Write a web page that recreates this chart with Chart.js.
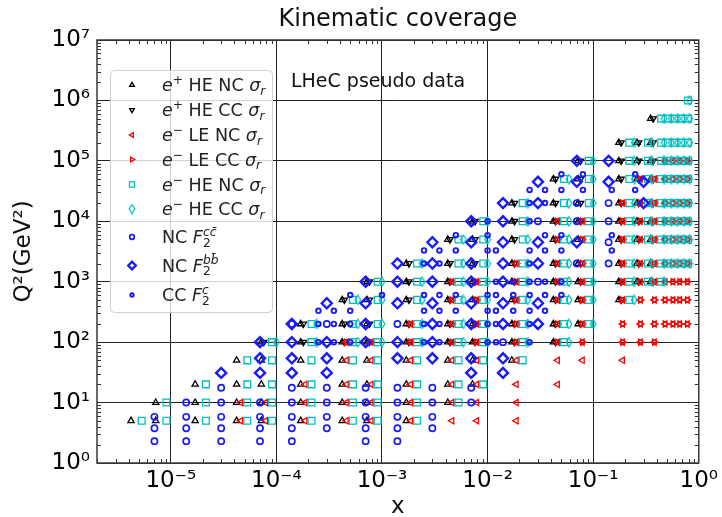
<!DOCTYPE html>
<html>
<head>
<meta charset="utf-8">
<script src="https://cdn.jsdelivr.net/npm/chart.js@4.4.1/dist/chart.umd.min.js"></script>
<style>
  html, body { margin: 0; padding: 0; background: #fff; }
  #plot { display: block; }
</style>
</head>
<body>
<canvas id="plot" width="722" height="517"></canvas>
<script>
// x / Q^2 coverage of the LHeC pseudo-data sets

const xTicks = [1e-5, 1e-4, 1e-3, 1e-2, 1e-1, 1];
const xTickLabels = ['10⁻⁵', '10⁻⁴', '10⁻³', '10⁻²', '10⁻¹', '10⁰'];
const yTicks = [1, 10, 100, 1e3, 1e4, 1e5, 1e6, 1e7];
const yTickLabels = ['10⁰', '10¹', '10²', '10³', '10⁴', '10⁵', '10⁶', '10⁷'];

// reduced cross sections, one row per Q2: [Q2, [x, ...]]
const ePlusHeNC = [
  [5, [4.2e-6, 7.2e-6, 1.7e-5, 4.2e-5, 7.2e-5, 1.7e-4, 4.2e-4, 7.2e-4, 1.7e-3]],
  [10, [7.2e-6, 1.7e-5, 4.2e-5, 7.2e-5, 1.7e-4, 4.2e-4, 7.2e-4, 1.7e-3, 4.2e-3]],
  [20, [1.7e-5, 4.2e-5, 7.2e-5, 1.7e-4, 4.2e-4, 7.2e-4, 1.7e-3, 4.2e-3, 7.2e-3]],
  [50, [4.2e-5, 7.2e-5, 1.7e-4, 4.2e-4, 7.2e-4, 1.7e-3, 4.2e-3, 7.2e-3, 1.7e-2]],
  [100, [7.2e-5, 1.7e-4, 4.2e-4, 7.2e-4, 1.7e-3, 4.2e-3, 7.2e-3, 1.7e-2, 4.2e-2]],
  [200, [1.7e-4, 4.2e-4, 7.2e-4, 1.7e-3, 4.2e-3, 7.2e-3, 1.7e-2, 4.2e-2, 7.2e-2]],
  [500, [4.2e-4, 7.2e-4, 1.7e-3, 4.2e-3, 7.2e-3, 1.7e-2, 4.2e-2, 7.2e-2, 0.175]],
  [1000, [7.2e-4, 1.7e-3, 4.2e-3, 7.2e-3, 1.7e-2, 4.2e-2, 7.2e-2, 0.175, 0.26, 0.35]],
  [2000, [1.7e-3, 4.2e-3, 7.2e-3, 1.7e-2, 4.2e-2, 7.2e-2, 0.175, 0.26, 0.35]],
  [5000, [4.2e-3, 7.2e-3, 1.7e-2, 4.2e-2, 7.2e-2, 0.175, 0.26, 0.35]],
  [1e4, [7.2e-3, 1.7e-2, 4.2e-2, 7.2e-2, 0.175, 0.26, 0.35]],
  [2e4, [1.7e-2, 4.2e-2, 7.2e-2, 0.175, 0.26, 0.35]],
  [5e4, [4.2e-2, 7.2e-2, 0.175, 0.26, 0.35]],
  [1e5, [7.2e-2, 0.175, 0.26, 0.35]],
  [2e5, [0.175, 0.26, 0.35]],
  [5e5, [0.35]]
];
const ePlusHeCC = [
  [100, [7.6e-5, 1.8e-4, 4.4e-4, 7.6e-4, 1.8e-3, 4.4e-3, 7.6e-3, 1.8e-2, 4.4e-2]],
  [200, [1.8e-4, 4.4e-4, 7.6e-4, 1.8e-3, 4.4e-3, 7.6e-3, 1.8e-2, 4.4e-2, 7.6e-2]],
  [500, [4.4e-4, 7.6e-4, 1.8e-3, 4.4e-3, 7.6e-3, 1.8e-2, 4.4e-2, 7.6e-2, 0.184]],
  [1000, [7.6e-4, 1.8e-3, 4.4e-3, 7.6e-3, 1.8e-2, 4.4e-2, 7.6e-2, 0.184, 0.27, 0.37]],
  [2000, [1.8e-3, 4.4e-3, 7.6e-3, 1.8e-2, 4.4e-2, 7.6e-2, 0.184, 0.27, 0.37]],
  [5000, [4.4e-3, 7.6e-3, 1.8e-2, 4.4e-2, 7.6e-2, 0.184, 0.27, 0.37]],
  [1e4, [7.6e-3, 1.8e-2, 4.4e-2, 7.6e-2, 0.184, 0.27, 0.37]],
  [2e4, [1.8e-2, 4.4e-2, 7.6e-2, 0.184, 0.27, 0.37]],
  [5e4, [4.4e-2, 7.6e-2, 0.184, 0.27, 0.37]],
  [1e5, [7.6e-2, 0.184, 0.27, 0.37]],
  [2e5, [0.184, 0.27, 0.37]],
  [5e5, [0.37]]
];
const eMinusLeNC = [
  [5, [4.6e-5, 7.9e-5, 1.87e-4, 4.6e-4, 7.9e-4, 1.87e-3, 4.6e-3, 7.9e-3, 1.87e-2]],
  [10, [4.6e-5, 7.9e-5, 1.87e-4, 4.6e-4, 7.9e-4, 1.87e-3, 4.6e-3, 7.9e-3, 1.87e-2]],
  [20, [1.87e-4, 4.6e-4, 7.9e-4, 1.87e-3, 4.6e-3, 7.9e-3, 1.87e-2, 4.6e-2]],
  [50, [4.6e-4, 7.9e-4, 1.87e-3, 4.6e-3, 7.9e-3, 1.87e-2, 4.6e-2, 7.9e-2, 0.19]],
  [100, [4.6e-4, 7.9e-4, 1.87e-3, 4.6e-3, 7.9e-3, 1.87e-2, 4.6e-2, 7.9e-2, 0.19, 0.28, 0.38]],
  [200, [1.87e-3, 4.6e-3, 7.9e-3, 1.87e-2, 4.6e-2, 7.9e-2, 0.19, 0.28, 0.38, 0.48, 0.57, 0.66, 0.78]],
  [500, [4.6e-3, 7.9e-3, 1.87e-2, 4.6e-2, 7.9e-2, 0.19, 0.28, 0.38, 0.48, 0.57, 0.66, 0.78]],
  [1000, [4.6e-3, 7.9e-3, 1.87e-2, 4.6e-2, 7.9e-2, 0.19, 0.28, 0.38, 0.48, 0.57, 0.66, 0.78]],
  [2000, [1.87e-2, 4.6e-2, 7.9e-2, 0.19, 0.28, 0.38, 0.48, 0.57, 0.66, 0.78]],
  [5000, [4.6e-2, 7.9e-2, 0.19, 0.28, 0.38, 0.48, 0.57, 0.66, 0.78]],
  [1e4, [4.6e-2, 7.9e-2, 0.19, 0.28, 0.38, 0.48, 0.57, 0.66, 0.78]],
  [2e4, [0.19, 0.28, 0.38, 0.48, 0.57, 0.66, 0.78]],
  [5e4, [0.28, 0.38, 0.48, 0.57, 0.66, 0.78]],
  [1e5, [0.48, 0.57, 0.66, 0.78]]
];
const eMinusLeCC = [
  [100, [4.6e-4, 7.9e-4, 1.87e-3, 4.6e-3, 7.9e-3, 1.87e-2, 4.6e-2, 7.9e-2, 0.19, 0.28, 0.38]],
  [200, [1.87e-3, 4.6e-3, 7.9e-3, 1.87e-2, 4.6e-2, 7.9e-2, 0.19, 0.28, 0.38, 0.48, 0.57, 0.66, 0.78]],
  [500, [4.6e-3, 7.9e-3, 1.87e-2, 4.6e-2, 7.9e-2, 0.19, 0.28, 0.38, 0.48, 0.57, 0.66, 0.78]],
  [1000, [4.6e-3, 7.9e-3, 1.87e-2, 4.6e-2, 7.9e-2, 0.19, 0.28, 0.38, 0.48, 0.57, 0.66, 0.78]],
  [2000, [1.87e-2, 4.6e-2, 7.9e-2, 0.19, 0.28, 0.38, 0.48, 0.57, 0.66, 0.78]],
  [5000, [4.6e-2, 7.9e-2, 0.19, 0.28, 0.38, 0.48, 0.57, 0.66, 0.78]],
  [1e4, [4.6e-2, 7.9e-2, 0.19, 0.28, 0.38, 0.48, 0.57, 0.66, 0.78]],
  [2e4, [0.19, 0.28, 0.38, 0.48, 0.57, 0.66, 0.78]],
  [5e4, [0.28, 0.38, 0.48, 0.57, 0.66, 0.78]],
  [1e5, [0.48, 0.57, 0.66, 0.78]]
];
const eMinusHeNC = [
  [5, [5.3e-6, 9.1e-6, 2.15e-5, 5.3e-5, 9.1e-5, 2.15e-4, 5.3e-4, 9.1e-4, 2.15e-3]],
  [10, [9.1e-6, 2.15e-5, 5.3e-5, 9.1e-5, 2.15e-4, 5.3e-4, 9.1e-4, 2.15e-3, 5.3e-3]],
  [20, [2.15e-5, 5.3e-5, 9.1e-5, 2.15e-4, 5.3e-4, 9.1e-4, 2.15e-3, 5.3e-3, 9.1e-3]],
  [50, [5.3e-5, 9.1e-5, 2.15e-4, 5.3e-4, 9.1e-4, 2.15e-3, 5.3e-3, 9.1e-3, 2.15e-2]],
  [100, [9.1e-5, 2.15e-4, 5.3e-4, 9.1e-4, 2.15e-3, 5.3e-3, 9.1e-3, 2.15e-2, 5.3e-2]],
  [200, [2.15e-4, 5.3e-4, 9.1e-4, 2.15e-3, 5.3e-3, 9.1e-3, 2.15e-2, 5.3e-2, 9.1e-2]],
  [500, [5.3e-4, 9.1e-4, 2.15e-3, 5.3e-3, 9.1e-3, 2.15e-2, 5.3e-2, 9.1e-2, 0.22]],
  [1000, [9.1e-4, 2.15e-3, 5.3e-3, 9.1e-3, 2.15e-2, 5.3e-2, 9.1e-2, 0.22, 0.33, 0.44]],
  [2000, [2.15e-3, 5.3e-3, 9.1e-3, 2.15e-2, 5.3e-2, 9.1e-2, 0.22, 0.33, 0.44, 0.51, 0.59, 0.68, 0.79]],
  [5000, [5.3e-3, 9.1e-3, 2.15e-2, 5.3e-2, 9.1e-2, 0.22, 0.33, 0.44, 0.51, 0.59, 0.68, 0.79]],
  [1e4, [9.1e-3, 2.15e-2, 5.3e-2, 9.1e-2, 0.22, 0.33, 0.44, 0.51, 0.59, 0.68, 0.79]],
  [2e4, [2.15e-2, 5.3e-2, 9.1e-2, 0.22, 0.33, 0.44, 0.51, 0.59, 0.68, 0.79]],
  [5e4, [5.3e-2, 9.1e-2, 0.22, 0.33, 0.44, 0.51, 0.59, 0.68, 0.79]],
  [1e5, [9.1e-2, 0.22, 0.33, 0.44, 0.51, 0.59, 0.68, 0.79]],
  [2e5, [0.22, 0.33, 0.44, 0.51, 0.59, 0.68, 0.79]],
  [5e5, [0.44, 0.51, 0.59, 0.68, 0.79]],
  [1e6, [0.79]]
];
const eMinusHeCC = [
  [100, [1.0e-4, 2.4e-4, 5.9e-4, 1.0e-3, 2.4e-3, 5.9e-3, 1.0e-2, 2.4e-2, 5.9e-2]],
  [200, [2.4e-4, 5.9e-4, 1.0e-3, 2.4e-3, 5.9e-3, 1.0e-2, 2.4e-2, 5.9e-2, 0.10]],
  [500, [5.9e-4, 1.0e-3, 2.4e-3, 5.9e-3, 1.0e-2, 2.4e-2, 5.9e-2, 0.10, 0.245]],
  [1000, [1.0e-3, 2.4e-3, 5.9e-3, 1.0e-2, 2.4e-2, 5.9e-2, 0.10, 0.245, 0.36, 0.47]],
  [2000, [2.4e-3, 5.9e-3, 1.0e-2, 2.4e-2, 5.9e-2, 0.10, 0.245, 0.36, 0.47, 0.55, 0.63, 0.72, 0.82]],
  [5000, [5.9e-3, 1.0e-2, 2.4e-2, 5.9e-2, 0.10, 0.245, 0.36, 0.47, 0.55, 0.63, 0.72, 0.82]],
  [1e4, [1.0e-2, 2.4e-2, 5.9e-2, 0.10, 0.245, 0.36, 0.47, 0.55, 0.63, 0.72, 0.82]],
  [2e4, [2.4e-2, 5.9e-2, 0.10, 0.245, 0.36, 0.47, 0.55, 0.63, 0.72, 0.82]],
  [5e4, [5.9e-2, 0.10, 0.245, 0.36, 0.47, 0.55, 0.63, 0.72, 0.82]],
  [1e5, [0.10, 0.245, 0.36, 0.47, 0.55, 0.63, 0.72, 0.82]],
  [2e5, [0.245, 0.36, 0.47, 0.55, 0.63, 0.72, 0.82]],
  [5e5, [0.47, 0.55, 0.63, 0.72, 0.82]],
  [1e6, [0.82]]
];

// heavy-flavour structure functions, one column per x: [x, [Q2, ...]]
const ncF2cc = [
  [7e-6, [2.3, 3.75, 5.8]],
  [1.4e-5, [2.3, 3.75, 5.8, 10]],
  [3e-5, [2.3, 3.75, 5.8, 10, 17.6]],
  [7e-5, [2.3, 3.75, 5.8, 10]],
  [1.4e-4, [2.3, 3.75, 5.8, 10, 17.6, 200]],
  [3e-4, [3.75, 5.8, 10, 17.6, 200]],
  [7e-4, [2.3, 3.75, 5.8, 10, 17.6]],
  [1.4e-3, [2.3, 3.75, 5.8, 10, 17.6, 200]],
  [3e-3, [3.75, 5.8, 10, 17.6]],
  [7e-3, [10, 17.6]],
  [1.4e-2, [100]],
  [3e-2, [1000, 1e4]],
  [7e-2, [2000, 1e4, 2e4]],
  [0.14, [2000, 4500, 1e4, 2e4]]
];
const ncF2bb = [
  [3e-5, [31]],
  [7e-5, [31, 54, 100]],
  [1.4e-4, [31, 54, 100, 200]],
  [3e-4, [31, 54, 100, 440]],
  [7e-4, [100, 200, 440, 1000]],
  [1.4e-3, [54, 100, 440, 1000, 2000]],
  [3e-3, [54, 100, 200, 440, 1000, 2000, 4500]],
  [7e-3, [31, 54, 200, 440, 1000, 2000, 4500, 1e4]],
  [1.4e-2, [31, 54, 200, 440, 1000, 2000, 4500, 1e4, 2e4]],
  [3e-2, [200, 440, 2000, 4500, 2e4, 4.5e4]],
  [7e-2, [4500, 4.5e4, 1e5]],
  [0.14, [4.5e4, 1e5]],
  [0.3, [2e4, 4.5e4]]
];
const ccF2c = [
  [2.5e-4, [100, 200, 330]],
  [3.5e-4, [100, 200, 330]],
  [5e-4, [100, 200, 330, 600]],
  [1e-3, [600]],
  [2.5e-3, [100, 200, 330, 600, 2000, 3300]],
  [3.5e-3, [100, 200, 330, 600, 2000, 3300]],
  [5e-3, [330, 600, 3300, 5900]],
  [1e-2, [100, 200, 330, 600, 3300, 5900, 1e4]],
  [1.2e-2, [100, 200, 330, 600, 1000, 3300]],
  [1.75e-2, [330, 600, 1000]],
  [2.5e-2, [100, 200, 330, 600, 1000, 2000, 3300, 1e4, 2e4, 3.3e4]],
  [3.5e-2, [330, 600, 1000, 3300, 5900, 2e4, 3.3e4]],
  [5e-2, [600, 1000, 3300, 5900, 3.3e4, 6e4]],
  [8e-2, [3.3e4, 6e4]],
  [0.15, [3300, 5900, 3.3e4]],
  [0.25, [3.3e4, 6e4]]
];

const byRow = rows => rows.flatMap(([q, xs]) => xs.map(x => ({ x, y: q })));
const byCol = cols => cols.flatMap(([x, qs]) => qs.map(q => ({ x, y: q })));

const FONT = '"DejaVu Sans", sans-serif';
const CYAN = '#00bfbf';
const RED = '#ff0000';
const BLUE = '#1a1aff';

// matplotlib-style thin diamond marker
function thinDiamond(color) {
  const c = document.createElement('canvas');
  c.width = 8; c.height = 11;
  const g = c.getContext('2d');
  g.strokeStyle = color;
  g.lineWidth = 1.3;
  g.beginPath();
  g.moveTo(4, 1); g.lineTo(6.8, 5.5); g.lineTo(4, 10); g.lineTo(1.2, 5.5); g.closePath();
  g.stroke();
  return c;
}

const series = [
  { data: byRow(ePlusHeNC), pointStyle: 'triangle', rotation: 0, radius: 3.6, borderColor: '#000', borderWidth: 1.3,
    label: [{ t: 'e', it: 1 }, { t: '+', sup: 1 }, { t: ' HE NC ' }, { t: 'σ', it: 1 }, { t: 'r', it: 1, sub: 1 }] },
  { data: byRow(ePlusHeCC), pointStyle: 'triangle', rotation: 180, radius: 3.6, borderColor: '#000', borderWidth: 1.3,
    label: [{ t: 'e', it: 1 }, { t: '+', sup: 1 }, { t: ' HE CC ' }, { t: 'σ', it: 1 }, { t: 'r', it: 1, sub: 1 }] },
  { data: byRow(eMinusLeNC), pointStyle: 'triangle', rotation: 270, radius: 3.6, borderColor: RED, borderWidth: 1.3,
    label: [{ t: 'e', it: 1 }, { t: '−', sup: 1 }, { t: ' LE NC ' }, { t: 'σ', it: 1 }, { t: 'r', it: 1, sub: 1 }] },
  { data: byRow(eMinusLeCC), pointStyle: 'triangle', rotation: 90, radius: 3.6, borderColor: RED, borderWidth: 1.3,
    label: [{ t: 'e', it: 1 }, { t: '−', sup: 1 }, { t: ' LE CC ' }, { t: 'σ', it: 1 }, { t: 'r', it: 1, sub: 1 }] },
  { data: byRow(eMinusHeNC), pointStyle: 'rect', rotation: 0, radius: 4.8, borderColor: CYAN, borderWidth: 1.3,
    label: [{ t: 'e', it: 1 }, { t: '−', sup: 1 }, { t: ' HE NC ' }, { t: 'σ', it: 1 }, { t: 'r', it: 1, sub: 1 }] },
  { data: byRow(eMinusHeCC), pointStyle: thinDiamond(CYAN), rotation: 0, radius: 5, borderColor: CYAN, borderWidth: 1.3,
    label: [{ t: 'e', it: 1 }, { t: '−', sup: 1 }, { t: ' HE CC ' }, { t: 'σ', it: 1 }, { t: 'r', it: 1, sub: 1 }] },
  { data: byCol(ncF2cc), pointStyle: 'circle', rotation: 0, radius: 3.1, borderColor: BLUE, borderWidth: 1.7,
    label: [{ t: 'NC ' }, { t: 'F', it: 1 }, { sub: '2', sup: 'cc̄' }] },
  { data: byCol(ncF2bb), pointStyle: 'rectRot', rotation: 0, radius: 5, borderColor: BLUE, borderWidth: 2.4,
    label: [{ t: 'NC ' }, { t: 'F', it: 1 }, { sub: '2', sup: 'bb̄' }] },
  { data: byCol(ccF2c), pointStyle: 'circle', rotation: 0, radius: 2.3, borderColor: BLUE, borderWidth: 1.9,
    label: [{ t: 'CC ' }, { t: 'F', it: 1 }, { sub: '2', sup: 'c' }] }
];

function font(size, italic) {
  return (italic ? 'italic ' : '') + size + 'px ' + FONT;
}

// text with italics, superscripts and subscripts, left aligned at (x, y baseline)
function drawRich(ctx, parts, x, y, size) {
  const small = size * 0.7;
  parts.forEach(p => {
    if (p.sub !== undefined && p.t === undefined) {
      ctx.font = font(small, false);
      const w1 = ctx.measureText(p.sub).width;
      ctx.fillText(p.sub, x, y + size * 0.22);
      ctx.font = font(small, true);
      const w2 = ctx.measureText(p.sup).width;
      ctx.fillText(p.sup, x, y - size * 0.42);
      x += Math.max(w1, w2);
      return;
    }
    const s = (p.sup || p.sub) ? small : size;
    ctx.font = font(s, p.it);
    const dy = p.sup ? -size * 0.4 : p.sub ? size * 0.22 : 0;
    ctx.fillText(p.t, x, y + dy);
    x += ctx.measureText(p.t).width;
  });
}

const decorations = {
  id: 'decorations',
  afterDatasetsDraw(chart) {
    const { ctx, chartArea: a, scales } = chart;
    const xs = scales.x, ys = scales.y;
    ctx.save();

    // minor ticks pointing inwards on all four sides
    ctx.strokeStyle = '#333';
    ctx.lineWidth = 1;
    ctx.beginPath();
    for (let k = -6; k <= 0; k++) {
      for (let m = 2; m <= 9; m++) {
        const v = m * Math.pow(10, k);
        if (v < xs.min || v > xs.max) continue;
        const px = Math.round(xs.getPixelForValue(v)) + 0.5;
        ctx.moveTo(px, a.bottom); ctx.lineTo(px, a.bottom - 4);
        ctx.moveTo(px, a.top); ctx.lineTo(px, a.top + 4);
      }
    }
    for (let k = 0; k <= 6; k++) {
      for (let m = 2; m <= 9; m++) {
        const v = m * Math.pow(10, k);
        const py = Math.round(ys.getPixelForValue(v)) + 0.5;
        ctx.moveTo(a.left, py); ctx.lineTo(a.left + 4, py);
        ctx.moveTo(a.right, py); ctx.lineTo(a.right - 4, py);
      }
    }
    ctx.stroke();

    // frame
    ctx.strokeStyle = '#3a3a3a';
    ctx.lineWidth = 1.5;
    ctx.strokeRect(a.left, a.top, a.right - a.left, a.bottom - a.top);

    // legend
    const lx = 110, ly = 70, lw = 162, lh = 242;
    ctx.beginPath();
    ctx.roundRect(lx + 0.5, ly + 0.5, lw, lh, 4);
    ctx.fillStyle = 'rgba(255,255,255,0.8)';
    ctx.fill();
    ctx.strokeStyle = '#d0d0d0';
    ctx.lineWidth = 1;
    ctx.stroke();

    const rowY = [85, 110, 135, 159.5, 184.5, 209, 237, 265.5, 295];
    series.forEach((s, i) => {
      const cy = rowY[i];
      ctx.strokeStyle = s.borderColor;
      ctx.fillStyle = 'rgba(0,0,0,0)';
      ctx.lineWidth = s.borderWidth;
      Chart.helpers.drawPoint(ctx, {
        pointStyle: s.pointStyle, rotation: s.rotation,
        radius: s.radius * 0.75, borderWidth: s.borderWidth
      }, 132, cy);
      ctx.fillStyle = '#222';
      ctx.textBaseline = 'alphabetic';
      ctx.textAlign = 'left';
      drawRich(ctx, s.label, 162, cy + 6, 17.5);
    });

    // annotation
    ctx.fillStyle = '#111';
    ctx.font = font(19, false);
    ctx.fillText('LHeC pseudo data', 291, 87);

    // titles
    ctx.textAlign = 'center';
    ctx.font = font(24, false);
    ctx.fillText('Kinematic coverage', (a.left + a.right) / 2, 26);
    ctx.font = font(23, false);
    ctx.fillText('x', (a.left + a.right) / 2, 513);
    ctx.translate(30, (a.top + a.bottom) / 2);
    ctx.rotate(-Math.PI / 2);
    ctx.fillText('Q²(GeV²)', 0, 0);
    ctx.restore();
  }
};

new Chart(document.getElementById('plot'), {
  type: 'scatter',
  data: {
    datasets: series.map((s, i) => ({
      data: s.data,
      pointStyle: s.pointStyle,
      rotation: s.rotation,
      pointRadius: s.radius,
      borderColor: s.borderColor,
      backgroundColor: 'rgba(0,0,0,0)',
      borderWidth: s.borderWidth,
      order: -i
    }))
  },
  options: {
    responsive: false,
    animation: false,
    events: [],
    layout: { padding: { top: 40, right: 22, left: 0, bottom: 0 } },
    plugins: { legend: { display: false }, tooltip: { enabled: false }, title: { display: false } },
    scales: {
      x: {
        type: 'logarithmic',
        min: 2e-6,
        max: 1,
        afterBuildTicks: scale => { scale.ticks = xTicks.map(v => ({ value: v })); },
        afterFit: scale => { scale.height = 54; },
        grid: { color: '#222', lineWidth: 1, drawTicks: false },
        border: { display: false },
        ticks: {
          autoSkip: false, maxRotation: 0, padding: 4, color: '#000',
          font: { family: FONT, size: 23 },
          callback: (v, i) => xTickLabels[i]
        }
      },
      y: {
        type: 'logarithmic',
        min: 1,
        max: 1e7,
        afterBuildTicks: scale => { scale.ticks = yTicks.map(v => ({ value: v })); },
        afterFit: scale => { scale.width = 97; },
        grid: { color: '#222', lineWidth: 1, drawTicks: false },
        border: { display: false },
        ticks: {
          autoSkip: false, padding: 7, color: '#000',
          font: { family: FONT, size: 23 },
          callback: (v, i) => yTickLabels[i]
        }
      }
    }
  },
  plugins: [decorations]
});
</script>
</body>
</html>
